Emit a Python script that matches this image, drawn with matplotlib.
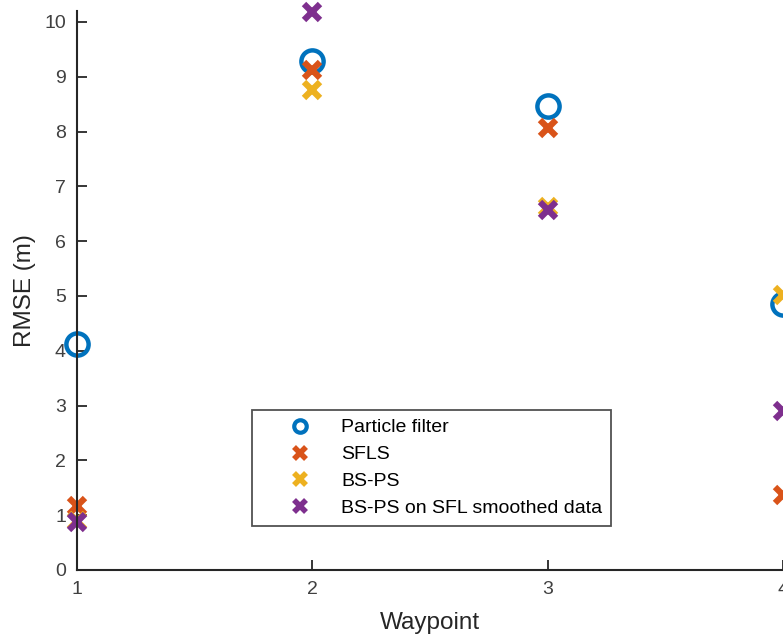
import matplotlib
matplotlib.use("Agg")
import matplotlib.pyplot as plt
from matplotlib.lines import Line2D

waypoints = [1, 2, 3, 4]
particle_filter = [4.13, 9.29, 8.46, 4.85]
sfls = [1.16, 9.13, 8.06, 1.37]
bs_ps = [0.90, 8.76, 6.63, 5.02]
bs_ps_sfl = [0.88, 10.18, 6.56, 2.91]
series_labels = ["Particle filter", "SFLS", "BS-PS", "BS-PS on SFL smoothed data"]
colors = ["#0072BD", "#D95319", "#EDB120", "#7E2F8E"]

plt.rcParams['font.family'] = ['Liberation Sans', 'DejaVu Sans']

W, H = 783, 640
fig = plt.figure(figsize=(W / 100, H / 100), dpi=100)
left_px, bottom_px, top_px, right_px = 77, 570, 11, 783
ax = fig.add_axes([left_px / W, (H - bottom_px) / H,
                   (right_px - left_px) / W, (bottom_px - top_px) / H])

ax.plot(waypoints, particle_filter, linestyle='none', marker='o', ms=16,
        mfc='none', mec=colors[0], mew=3.2, label=series_labels[0], clip_on=False)
for vals, c, lab in zip([sfls, bs_ps, bs_ps_sfl], colors[1:], series_labels[1:]):
    ax.plot(waypoints, vals, linestyle='none', marker='x', ms=12, mec=c, mew=4.5,
            label=lab, clip_on=False)

ax.set_xlim(1, 4)
ax.set_ylim(0, 10.2)
ax.set_xticks(waypoints)
ax.set_yticks(range(0, 11))
for s in ['top', 'right']:
    ax.spines[s].set_visible(False)
for s in ['left', 'bottom']:
    ax.spines[s].set_color('#262626')
    ax.spines[s].set_linewidth(1.5)
ax.tick_params(direction='in', length=7, width=1.3, colors='#262626',
               labelsize=14, labelcolor='#404040', pad=8)
ax.set_xlabel("Waypoint", fontsize=17.5, color='#262626', labelpad=10)
ax.set_ylabel("RMSE (m)", fontsize=17.5, color='#262626', labelpad=6)

handles = [
    Line2D([], [], linestyle='none', marker='o', ms=9, mfc='none', mec=colors[0], mew=3),
] + [Line2D([], [], linestyle='none', marker='x', ms=8, mec=c, mew=4) for c in colors[1:]]
leg = fig.legend(handles, series_labels, loc='upper left',
                 bbox_to_anchor=(252 / W, 1 - 410 / H), bbox_transform=fig.transFigure,
                 fontsize=14, frameon=True, fancybox=False, edgecolor='#262626',
                 borderpad=0.45, labelspacing=0.48, handlelength=4.0, handletextpad=0.15,
                 borderaxespad=0)
leg.get_frame().set_linewidth(1.3)
for t in leg.get_texts():
    t.set_color('#000000')

fig.savefig("out.png", dpi=100)
